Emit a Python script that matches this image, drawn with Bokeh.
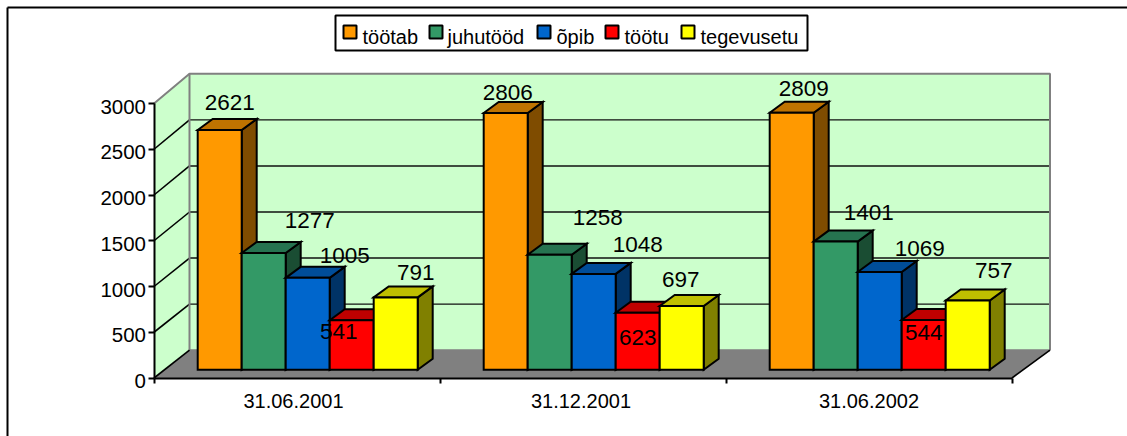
from bokeh.plotting import figure
from bokeh.models import Range1d, LinearAxis, FixedTicker
from bokeh.core.properties import value
from bokeh.embed import file_html
from bokeh.resources import INLINE

# ---- data ----
periods = ["31.06.2001", "31.12.2001", "31.06.2002"]
series_names = ["töötab", "juhutööd", "õpib", "töötu", "tegevusetu"]
tootab = [2621, 2806, 2809]
juhutood = [1277, 1258, 1401]
opib = [1005, 1048, 1069]
tootu = [541, 623, 544]
tegevusetu = [791, 697, 757]
y_ticks = [0, 500, 1000, 1500, 2000, 2500, 3000]

# ---- styles ----
front = ["#FF9900", "#339966", "#0066CC", "#FF0000", "#FFFF00"]
tops = ["#BF7300", "#267350", "#004D99", "#BF0000", "#BFBF00"]
sides = ["#7F4C00", "#1A4D33", "#003366", "#800000", "#808000"]
FONT = "Liberation Sans"
# label nudges in px (right, up) from the bar's top centre
nudges = [
    [(10, 27.5), (46, 32.5), (37, 22.3), (-13, -11), (20, 25)],
    [(2, 20.5), (48, 37), (44, 29.4), (0, -24.7), (-1, 26.5)],
    [(12, 24.3), (33, 29), (40, 23.5), (0, -12.5), (26, 30)],
]
cat_nudge_px = [-3.5, -2, 0]
legend_swatch_px = [343, 429, 537, 605, 681]
legend_text_px = [362, 447, 556, 624, 700]

# ---- layout (px on the page) ----
OX, OY, W, H = 0, 0, 1127, 436
AX_X, AX_Y = 153.5, 377.5
CAT_PX = 286.0
PX_PER_UNIT = 0.0915
ux = 1 / CAT_PX
uy = 1 / PX_PER_UNIT


def px_x(v):
    return (v - AX_X) * ux


def px_y(v):
    return (AX_Y - v) * uy


p = figure(width=W, height=H, output_backend="svg", toolbar_location=None,
           x_axis_type=None, y_axis_type=None, min_border=0,
           x_range=Range1d(px_x(OX), px_x(OX + W)),
           y_range=Range1d(px_y(OY + H), px_y(OY)),
           background_fill_color="white", border_fill_color="white",
           outline_line_color=None)
p.grid.visible = False

X_END = len(periods)
DX, DY = 35.5 * ux, 27.8 * uy
BX_R = X_END + 38 * ux      # back wall right edge
WALL = 276.4 / 274.5        # back wall is drawn slightly taller than the axis
YMAX = y_ticks[-1]
Y_TOP = YMAX * WALL + DY
GREY = "#808080"

# outer border (left and top only are visible in the window)
x_l, y_t = px_x(7), px_y(7)
p.segment([x_l, x_l], [y_t, y_t], [x_l, p.x_range.end], [p.y_range.start, y_t],
          line_color="black", line_width=2)

# walls and floor
p.patch([0, DX, DX, 0], [0, DY, Y_TOP, YMAX], fill_color="#CCFFCC", line_color=None)
p.patch([DX, BX_R, BX_R, DX], [DY, DY, Y_TOP, Y_TOP], fill_color="#CCFFCC", line_color=None)
p.patch([0, DX, BX_R, X_END], [0, DY, DY, 0], fill_color=GREY, line_color=None)

# gridlines on both walls
g = y_ticks[1:-1]
gb = [v * WALL + DY for v in g]
p.segment([0] * len(g), g, [DX] * len(g), gb, line_color="black", line_width=1.6)
p.segment([DX] * len(g), gb, [BX_R] * len(g), gb, line_color="#111111", line_width=1.4)
# wall edges
p.line([0, DX, BX_R, BX_R], [YMAX, Y_TOP, Y_TOP, DY], line_color=GREY, line_width=2)
p.line([DX, DX, BX_R], [Y_TOP, DY, DY], line_color=GREY, line_width=2)
p.segment([0, X_END], [0, 0], [DX, BX_R], [DY, DY], line_color="black", line_width=1.6)

# bars
all_series = [tootab, juhutood, opib, tootu, tegevusetu]
bar_w = 44 * ux
bar_dx, bar_dy = 15 * ux, 11 * uy
first = 43.7 * ux
base = 8.2 * uy
edge = dict(line_color="black", line_width=2, line_join="miter")
label_x, label_y, label_t = [], [], []
for g_i in range(len(periods)):
    for s_i, s in enumerate(all_series):
        l = g_i + first + s_i * bar_w
        r = l + bar_w
        t = base + s[g_i]
        p.patch([r, r + bar_dx, r + bar_dx, r], [base, base + bar_dy, t + bar_dy, t],
                fill_color=sides[s_i], **edge)
        p.patch([l, l + bar_dx, r + bar_dx, r], [t, t + bar_dy, t + bar_dy, t],
                fill_color=tops[s_i], **edge)
        p.quad(left=[l], right=[r], bottom=[base], top=[t], fill_color=front[s_i], **edge)
        nx, ny = nudges[g_i][s_i]
        label_x.append((l + r) / 2 + nx * ux)
        label_y.append(t + ny * uy)
        label_t.append(str(s[g_i]))

p.text(label_x, label_y, text=label_t, text_align="center", text_baseline="middle",
       text_font=value(FONT), text_font_size="22.5px", text_color="black")

# axes
yax = LinearAxis(fixed_location=0, ticker=FixedTicker(ticks=y_ticks), bounds=(0, YMAX))
yax.axis_line_color = "black"
yax.axis_line_width = 2
yax.major_tick_line_width = 2
yax.major_tick_line_color = "black"
yax.major_tick_in = 0
yax.major_tick_out = 6
yax.minor_tick_line_color = None
yax.major_label_text_color = None
yax.major_label_text_font_size = "1px"
p.add_layout(yax, "left")

# tick labels sit about 3px below their ticks
y_label_shift = 3 * uy
ylab = LinearAxis(fixed_location=0, ticker=FixedTicker(ticks=[v - y_label_shift for v in y_ticks]),
                  major_label_overrides={v - y_label_shift: str(v) for v in y_ticks})
ylab.axis_line_color = None
ylab.major_tick_line_color = None
ylab.minor_tick_line_color = None
ylab.major_tick_in = 0
ylab.major_tick_out = 0
ylab.major_label_standoff = 8
ylab.major_label_text_font = FONT
ylab.major_label_text_font_size = "20.5px"
ylab.major_label_text_color = "black"
p.add_layout(ylab, "left")

xax = LinearAxis(fixed_location=0, ticker=FixedTicker(ticks=list(range(len(periods) + 1))),
                 bounds=(0, X_END))
xax.axis_line_color = "black"
xax.axis_line_width = 2
xax.major_tick_line_width = 2
xax.major_tick_line_color = "black"
xax.major_tick_in = 0
xax.major_tick_out = 5
xax.minor_tick_line_color = None
xax.major_label_text_color = None
xax.major_label_text_font_size = "1px"
p.add_layout(xax, "below")

cat_pos = [i + 0.5 + cat_nudge_px[i] * ux for i in range(len(periods))]
cax = LinearAxis(fixed_location=0, ticker=FixedTicker(ticks=cat_pos),
                 major_label_overrides={cat_pos[i]: periods[i] for i in range(len(periods))})
cax.axis_line_color = None
cax.major_tick_line_color = None
cax.minor_tick_line_color = None
cax.major_tick_out = 0
cax.major_tick_in = 0
cax.major_label_standoff = 16
cax.major_label_text_font = FONT
cax.major_label_text_font_size = "20px"
cax.major_label_text_color = "black"
p.add_layout(cax, "below")

# legend: frame, swatches and labels
p.quad(left=[px_x(335)], right=[px_x(807)], bottom=[px_y(50)], top=[px_y(15)],
       fill_color="white", line_color="black", line_width=2)
p.quad(left=[px_x(v) for v in legend_swatch_px],
       right=[px_x(v + 13) for v in legend_swatch_px],
       bottom=[px_y(38)] * len(series_names), top=[px_y(25)] * len(series_names),
       fill_color=front, line_color="black", line_width=2)
p.text([px_x(v) for v in legend_text_px], [px_y(36)] * len(series_names), text=series_names,
       text_align="left", text_baseline="middle",
       text_font=value(FONT), text_font_size="20px", text_color="black")

open("out.html", "w").write(file_html(p, INLINE))
